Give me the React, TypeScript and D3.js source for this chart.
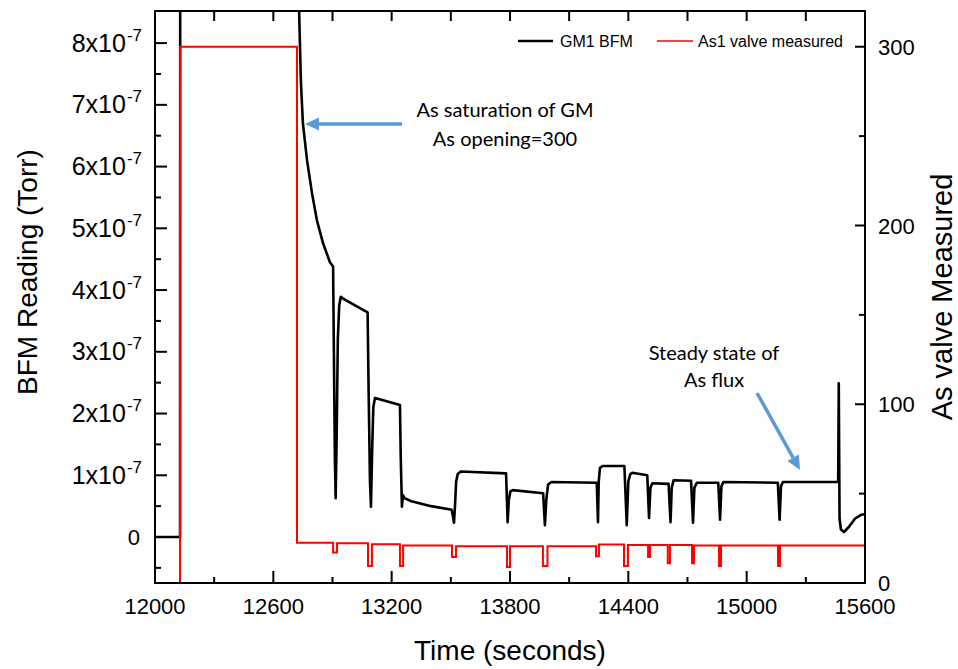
import React from "react";
import * as d3 from "d3";

// ---- data ----
const bfmTime = [
  12000, 12127, 12128, 12728, 12730, 12740, 12750, 12771, 12796, 12821, 12852, 12887, 12903,
  12907, 12912, 12916, 12921, 12927, 12934, 12942, 12960, 13078,
  13083, 13090, 13095, 13101, 13107, 13115, 13130, 13242,
  13246, 13252, 13257, 13265, 13300, 13400, 13504,
  13510, 13516, 13521, 13527, 13535, 13550, 13780,
  13788, 13794, 13802, 13815, 13968,
  13977, 13984, 13993, 14010, 14240,
  14246, 14250, 14256, 14270, 14380,
  14392, 14400, 14410, 14420, 14496,
  14505, 14512, 14522, 14604,
  14614, 14620, 14630, 14718,
  14728, 14735, 14748, 14856,
  14865, 14872, 14882, 15158,
  15167, 15174, 15184, 15464,
  15467, 15471, 15478, 15493, 15520, 15550, 15580, 15600,
];
const bfmValue = [
  0, 0, 12, 12, 8.6, 7.35, 6.7, 6.1, 5.57, 5.13, 4.76, 4.45, 4.38,
  3.0, 1.3, 0.63, 1.6, 3.2, 3.75, 3.89, 3.85, 3.64,
  2.4, 0.9, 0.49, 1.4, 2.1, 2.25, 2.24, 2.14,
  1.3, 0.49, 0.68, 0.63, 0.58, 0.5, 0.44,
  0.35, 0.23, 0.5, 0.9, 1.02, 1.06, 1.03,
  0.24, 0.6, 0.74, 0.76, 0.71,
  0.19, 0.6, 0.85, 0.89, 0.88,
  0.24, 0.9, 1.12, 1.15, 1.15,
  0.19, 0.9, 1.02, 1.04, 1.0,
  0.31, 0.8, 0.87, 0.86,
  0.24, 0.8, 0.92, 0.91,
  0.23, 0.8, 0.88, 0.88,
  0.28, 0.82, 0.89, 0.88,
  0.28, 0.82, 0.89, 0.89,
  2.49, 0.3, 0.12, 0.08, 0.17, 0.3, 0.36, 0.37,
];

const valveTime = [
  12000, 12127, 12720, 12903, 12923, 13080, 13100, 13242, 13258, 13506, 13526, 13785, 13800,
  13967, 13990, 14236, 14251, 14378, 14398, 14500, 14510, 14600, 14611, 14723, 14733, 14860,
  14870, 15159, 15169, 15600,
];
const valveValue = [
  0, 300, 22.5, 17, 22.2, 9.5, 21.7, 9.5, 21, 14.5, 20.5, 9, 20.5,
  9.5, 20.5, 15, 21.5, 9.5, 21.3, 14.5, 21.3, 11, 21.2, 11, 21, 9.5,
  21, 9.5, 21, 21,
];

const xTicks = [12000, 12600, 13200, 13800, 14400, 15000, 15600];
const xMinorTicks = [12300, 12900, 13500, 14100, 14700, 15300];
const yLeftTicks = [0, 1, 2, 3, 4, 5, 6, 7, 8];
const yLeftMinor = [-0.5, 0.5, 1.5, 2.5, 3.5, 4.5, 5.5, 6.5, 7.5];
const yRightTicks = [0, 100, 200, 300];
const yRightMinor = [50, 150, 250];

const W = 958;
const H = 669;
const L = 155, R = 865, T = 11, B = 583;

export default function App() {
  const x = d3.scaleLinear().domain([12000, 15600]).range([L, R]);
  const yL = d3.scaleLinear().domain([-0.745, 8.52]).range([B, T]);
  const yR = d3.scaleLinear().domain([0, 320]).range([B, T]);

  const bfm = bfmTime.map((t, i) => [t, bfmValue[i]] as [number, number]);
  const valve = valveTime.map((t, i) => [t, valveValue[i]] as [number, number]);

  const bfmLine = d3.line<[number, number]>().x(d => x(d[0])).y(d => yL(d[1]))(bfm) || "";
  const valveLine = d3
    .line<[number, number]>()
    .x(d => x(d[0]))
    .y(d => yR(d[1]))
    .curve(d3.curveStepAfter)(valve) || "";

  const font = "Arial, 'Liberation Sans', sans-serif";
  const annFont = "Lato, 'Open Sans', sans-serif";
  const blue = "#5B9BD5";

  const arrow = (x1: number, y1: number, x2: number, y2: number) => {
    const dx = x2 - x1, dy = y2 - y1;
    const len = Math.sqrt(dx * dx + dy * dy);
    const ux = dx / len, uy = dy / len;
    const hl = 14, hw = 6.5;
    const bx = x2 - ux * hl, by = y2 - uy * hl;
    const px = -uy, py = ux;
    return (
      <g>
        <line x1={x1} y1={y1} x2={bx} y2={by} stroke={blue} strokeWidth={3.5} />
        <polygon
          points={`${x2},${y2} ${bx + px * hw},${by + py * hw} ${bx - px * hw},${by - py * hw}`}
          fill={blue}
        />
      </g>
    );
  };

  return (
    <svg width={W} height={H} style={{ position: "absolute", left: 0, top: 0, background: "#fff" }}>
      <defs>
        <clipPath id="plot">
          <rect x={L} y={T} width={R - L} height={B - T} />
        </clipPath>
      </defs>
      <rect x={0} y={0} width={W} height={H} fill="#fff" />

      <g clipPath="url(#plot)">
        <path d={bfmLine} fill="none" stroke="#000" strokeWidth={2.6} strokeLinejoin="round" />
        <path d={valveLine} fill="none" stroke="#ff0000" strokeWidth={2} />
      </g>

      {/* frame */}
      <rect x={L} y={T} width={R - L} height={B - T} fill="none" stroke="#000" strokeWidth={2} />

      {/* bottom axis */}
      {xTicks.map(t => (
        <g key={"xb" + t}>
          <line x1={x(t)} x2={x(t)} y1={B} y2={B - 12} stroke="#000" strokeWidth={2} />
          <line x1={x(t)} x2={x(t)} y1={T} y2={T + 10} stroke="#000" strokeWidth={2} />
          <text x={x(t)} y={614} textAnchor="middle" fontFamily={font} fontSize={22}>
            {t}
          </text>
        </g>
      ))}
      {xMinorTicks.map(t => (
        <g key={"xm" + t}>
          <line x1={x(t)} x2={x(t)} y1={B} y2={B - 6} stroke="#000" strokeWidth={2} />
          <line x1={x(t)} x2={x(t)} y1={T} y2={T + 10} stroke="#000" strokeWidth={2} />
        </g>
      ))}

      {/* left axis */}
      {yLeftTicks.map(v => (
        <g key={"yl" + v}>
          <line x1={L} x2={L + 12} y1={yL(v)} y2={yL(v)} stroke="#000" strokeWidth={2} />
          {v === 0 ? (
            <text x={140} y={yL(v) + 8} textAnchor="end" fontFamily={font} fontSize={22}>
              0
            </text>
          ) : (
            <text x={142} y={yL(v) + 8.5} textAnchor="end" fontFamily={font} fontSize={25}>
              {`${v}x10`}
              <tspan fontSize={17} dy={-11} dx={1}>-7</tspan>
            </text>
          )}
        </g>
      ))}
      {yLeftMinor.map(v => (
        <line key={"ylm" + v} x1={L} x2={L + 6} y1={yL(v)} y2={yL(v)} stroke="#000" strokeWidth={2} />
      ))}

      {/* right axis */}
      {yRightTicks.map(v => (
        <g key={"yr" + v}>
          <line x1={R} x2={R - 10} y1={yR(v)} y2={yR(v)} stroke="#000" strokeWidth={2} />
          <text x={878} y={yR(v) + 8} textAnchor="start" fontFamily={font} fontSize={22}>
            {v}
          </text>
        </g>
      ))}
      {yRightMinor.map(v => (
        <line key={"yrm" + v} x1={R} x2={R - 6} y1={yR(v)} y2={yR(v)} stroke="#000" strokeWidth={2} />
      ))}

      {/* titles */}
      <text
        transform={`translate(37,${(T + B) / 2 - 25}) rotate(-90)`}
        textAnchor="middle"
        fontFamily={font}
        fontSize={28}
      >
        BFM Reading (Torr)
      </text>
      <text
        transform={`translate(952,${(T + B) / 2}) rotate(-90)`}
        textAnchor="middle"
        fontFamily={font}
        fontSize={29}
      >
        As valve Measured
      </text>
      <text x={(L + R) / 2} y={660} textAnchor="middle" fontFamily={font} fontSize={28}>
        Time (seconds)
      </text>

      {/* legend */}
      <line x1={518} x2={553} y1={41} y2={41} stroke="#000" strokeWidth={2.6} />
      <text x={560} y={46.5} fontFamily={font} fontSize={16}>GM1 BFM</text>
      <line x1={657} x2={693} y1={41} y2={41} stroke="#ff0000" strokeWidth={1.6} />
      <text x={698} y={46.5} fontFamily={font} fontSize={16}>As1 valve measured</text>

      {/* annotations */}
      <text x={505} y={117} textAnchor="middle" fontFamily={annFont} fontSize={20}>
        As saturation of GM
      </text>
      <text x={505} y={146} textAnchor="middle" fontFamily={annFont} fontSize={20}>
        As opening=300
      </text>
      {arrow(402, 124, 305, 124)}

      <text x={714} y={360} textAnchor="middle" fontFamily={annFont} fontSize={20}>
        Steady state of
      </text>
      <text x={714} y={387} textAnchor="middle" fontFamily={annFont} fontSize={20}>
        As flux
      </text>
      {arrow(757, 393, 800, 470)}
    </svg>
  );
}
